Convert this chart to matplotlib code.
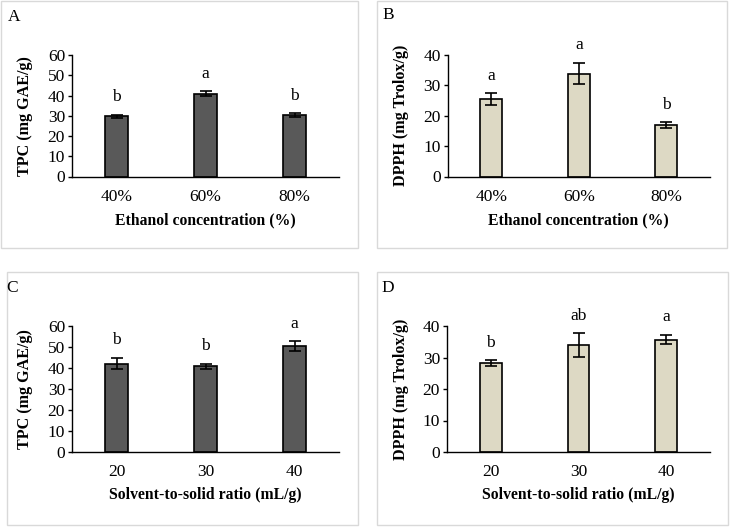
import matplotlib
matplotlib.use("Agg")
import matplotlib.pyplot as plt
from matplotlib.patches import Rectangle

plt.rcParams['font.family'] = ['Liberation Serif', 'DejaVu Serif']
plt.rcParams['font.size'] = 12

# data
ethanol = ['40%', '60%', '80%']
ratio = ['20', '30', '40']

tpc_eth = [29.8, 40.8, 30.4]
tpc_eth_err = [0.8, 1.2, 0.8]
tpc_eth_sig = ['b', 'a', 'b']

dpph_eth = [25.6, 33.9, 16.9]
dpph_eth_err = [1.9, 3.6, 1.0]
dpph_eth_sig = ['a', 'a', 'b']

tpc_ratio = [42.1, 40.9, 50.6]
tpc_ratio_err = [2.8, 1.2, 2.3]
tpc_ratio_sig = ['b', 'b', 'a']

dpph_ratio = [28.3, 34.0, 35.7]
dpph_ratio_err = [0.9, 3.7, 1.5]
dpph_ratio_sig = ['b', 'ab', 'a']

W, H = 731, 527
fig = plt.figure(figsize=(W / 100, H / 100), dpi=100)


def px_axes(left, right, bottom, top):
    return fig.add_axes([left / W, 1 - bottom / H, (right - left) / W, (bottom - top) / H])


def border(x0, y0, x1, y1):
    fig.patches.append(Rectangle((x0 / W, 1 - y1 / H), (x1 - x0) / W, (y1 - y0) / H,
                                 transform=fig.transFigure, fill=False,
                                 edgecolor='#d9d9d9', lw=1.0))


def panel(ax, cats, vals, errs, sig, color, ymax, ystep, ylabel, xlabel):
    x = range(len(cats))
    ax.bar(x, vals, width=0.25, color=color, edgecolor='black', linewidth=1.2, zorder=2)
    ax.errorbar(x, vals, yerr=errs, fmt='none', ecolor='black', elinewidth=1.2,
                capsize=4, capthick=1.2, zorder=3)
    for i, (v, e, s) in enumerate(zip(vals, errs, sig)):
        ax.annotate(s, (i, v + e), xytext=(0, 12.5), textcoords='offset points',
                    ha='center', va='center', fontsize=12.5)
    ax.set_xlim(-0.5, len(cats) - 0.5)
    ax.set_ylim(0, ymax)
    ax.set_yticks(range(0, ymax + 1, ystep))
    ax.set_xticks(list(x))
    ax.set_xticklabels(cats)
    for side in ['top', 'right']:
        ax.spines[side].set_visible(False)
    for side in ['left', 'bottom']:
        ax.spines[side].set_linewidth(1.0)
    ax.tick_params(axis='x', length=0, pad=9, labelsize=12.5)
    ax.tick_params(axis='y', length=3, width=1.0, pad=2, labelsize=12.5)
    ax.set_ylabel(ylabel, fontweight='bold', fontsize=11.6)
    ax.yaxis.set_label_coords(-0.145, 0.5)
    ax.set_xlabel(xlabel, fontweight='bold', fontsize=11.3, labelpad=5)
    ax.patch.set_visible(False)


border(1, 1, 358, 248)
border(377, 1, 727, 248)
border(7, 272, 358, 525)
border(377, 272, 728, 525)

dark = '#595959'
tan = '#ddd9c4'

axA = px_axes(72, 339, 176.5, 55)
panel(axA, ethanol, tpc_eth, tpc_eth_err, tpc_eth_sig, dark, 60, 10,
      'TPC (mg GAE/g)', 'Ethanol concentration (%)')
axB = px_axes(447.5, 710, 176.5, 55)
panel(axB, ethanol, dpph_eth, dpph_eth_err, dpph_eth_sig, tan, 40, 10,
      'DPPH (mg Trolox/g)', 'Ethanol concentration (%)')
axC = px_axes(72, 339, 452, 326)
panel(axC, ratio, tpc_ratio, tpc_ratio_err, tpc_ratio_sig, dark, 60, 10,
      'TPC (mg GAE/g)', 'Solvent-to-solid ratio (mL/g)')
axD = px_axes(447, 710, 452, 326)
panel(axD, ratio, dpph_ratio, dpph_ratio_err, dpph_ratio_sig, tan, 40, 10,
      'DPPH (mg Trolox/g)', 'Solvent-to-solid ratio (mL/g)')

for lab, (px, py) in zip('ABCD', [(14, 17), (388, 15), (12.5, 288), (388, 288)]):
    fig.text(px / W, 1 - py / H, lab, ha='center', va='center', fontsize=12.5)

fig.savefig('out.png', dpi=100)
